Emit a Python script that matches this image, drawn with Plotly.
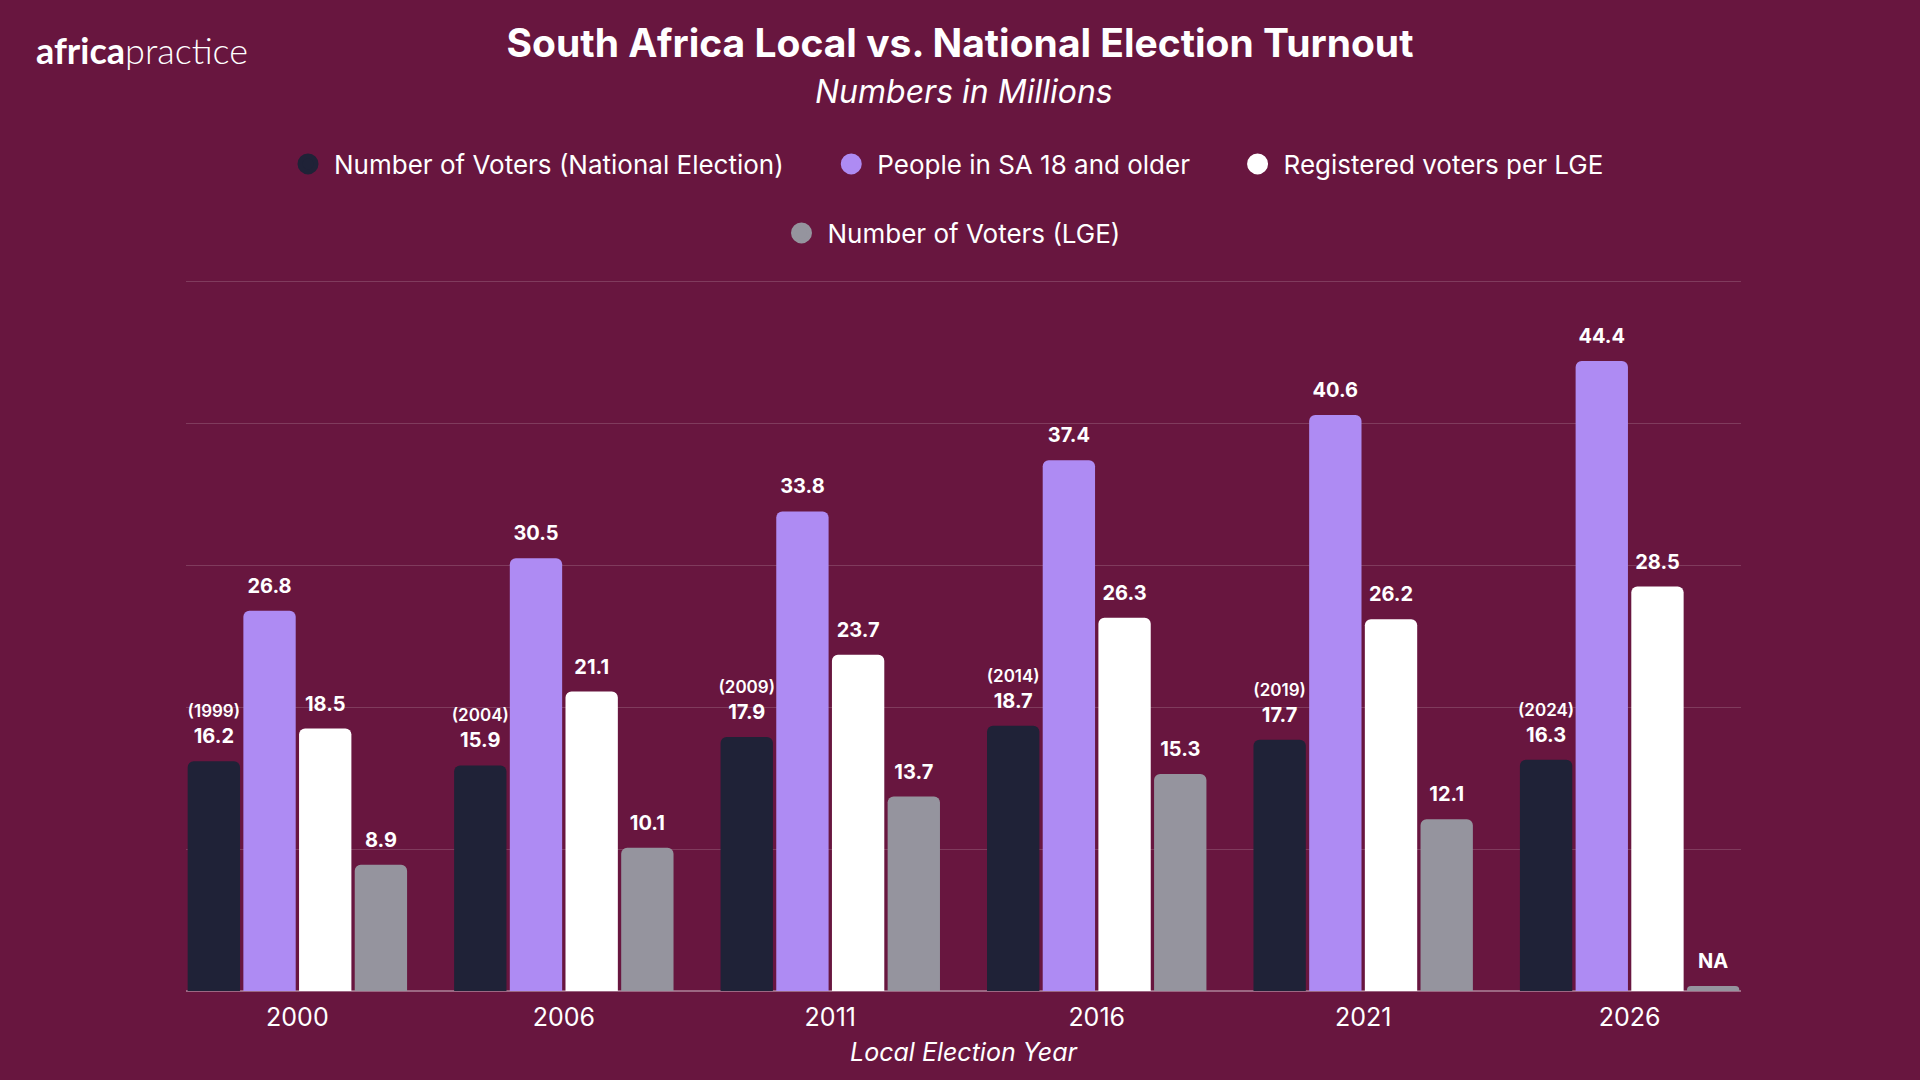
import plotly.graph_objects as go

# ---------------- data ----------------
years = ["2000", "2006", "2011", "2016", "2021", "2026"]
national_years = ["1999", "2004", "2009", "2014", "2019", "2024"]
national_voters = [16.2, 15.9, 17.9, 18.7, 17.7, 16.3]
adults_18_plus = [26.8, 30.5, 33.8, 37.4, 40.6, 44.4]
registered_lge = [18.5, 21.1, 23.7, 26.3, 26.2, 28.5]
lge_voters = [8.9, 10.1, 13.7, 15.3, 12.1, None]
na_stub = 0.35  # small placeholder bar drawn where the value is not available

series_names = [
    "Number of Voters (National Election)",
    "People in SA 18 and older",
    "Registered voters per LGE",
    "Number of Voters (LGE)",
]

# ---------------- styles ----------------
BG = "#68163F"
C_DARK = "#1F2237"
C_PURPLE = "#AE8BF3"
C_WHITE = "#FFFFFF"
C_GRAY = "#95949E"
FONT = "Inter"

W, H = 1920, 1080
L, R, T, B = 186, 179, 278, 89
PH = H - T - B
PW = W - L - R


def py(px_from_top):
    return (H - B - px_from_top) / PH


NUM = "<span style='font-size:20px;font-weight:bold'>{}</span>"
YR = "<span style='font-size:17px;font-weight:600'>({})</span>"
TAIL = "<br> "  # small spacer line to lift labels off the bar tops

label_font = dict(family=FONT, size=10, color="white")


def lab(v):
    return NUM.format(v) + TAIL


fig = go.Figure()

nat_text = [YR.format(ny) + "<br><br>" + lab(v) for ny, v in zip(national_years, national_voters)]
fig.add_trace(go.Bar(x=years, y=national_voters, marker_color=C_DARK,
                     text=nat_text, name=series_names[0], showlegend=False))
fig.add_trace(go.Bar(x=years, y=adults_18_plus, marker_color=C_PURPLE,
                     text=[lab(v) for v in adults_18_plus], name=series_names[1], showlegend=False))
fig.add_trace(go.Bar(x=years, y=registered_lge, marker_color=C_WHITE,
                     text=[lab(v) for v in registered_lge], name=series_names[2], showlegend=False))
lge_plot = [v if v is not None else na_stub for v in lge_voters]
lge_text = [lab(v if v is not None else "NA") for v in lge_voters]
fig.add_trace(go.Bar(x=years, y=lge_plot, marker_color=C_GRAY,
                     text=lge_text, name=series_names[3], showlegend=False))

fig.update_traces(selector=dict(type="bar"), textposition="outside",
                  outsidetextfont=label_font, textfont=label_font,
                  constraintext="none", cliponaxis=False, marker_line_width=0)

# legend entries (circle markers)
PAD = "\u00a0" * 5
for i, (nm, c) in enumerate(zip(series_names, [C_DARK, C_PURPLE, C_WHITE, C_GRAY])):
    fig.add_trace(go.Scatter(
        x=[None], y=[None], mode="markers", name=nm + (PAD if i < 2 else ""),
        marker=dict(size=16, color=c, symbol="circle", line=dict(width=5, color=c)),
        legend="legend" if i < 3 else "legend2", hoverinfo="skip"))

fig.update_layout(
    width=W, height=H,
    paper_bgcolor=BG, plot_bgcolor=BG,
    margin=dict(l=L, r=R, t=T, b=B),
    font=dict(family=FONT, color="white"),
    barmode="group", bargap=0.164, bargroupgap=0.06, barcornerradius=6,
    title=dict(text="<b>South Africa Local vs. National Election Turnout</b>",
               font=dict(family=FONT, size=39, color="white"),
               x=0.5, xref="container", xanchor="center",
               y=1 - 43 / H, yref="container", yanchor="middle"),
    legend=dict(orientation="h", x=0.5 - 18 / PW, xanchor="center", y=py(164), yanchor="middle",
                font=dict(family=FONT, size=26, color="white"), bgcolor="rgba(0,0,0,0)",
                itemwidth=42),
    legend2=dict(orientation="h", x=0.5 - 13 / PW, xanchor="center", y=py(233), yanchor="middle",
                 font=dict(family=FONT, size=26, color="white"), bgcolor="rgba(0,0,0,0)",
                 itemwidth=42),
    xaxis=dict(type="category", range=[-0.418, 5.418], ticks="", showline=False,
               showgrid=False, ticklabelstandoff=9,
               tickfont=dict(family=FONT, size=25, color="white"),
               title=dict(text="Local Election Year", standoff=12,
                          font=dict(family=FONT, size=25, color="white", style="italic"))),
    yaxis=dict(range=[0, 50.25], tickvals=[10, 20, 30, 40, 50], showticklabels=False, ticks="",
               showgrid=True, gridcolor="rgba(255,255,255,0.16)", gridwidth=1,
               zeroline=True, zerolinecolor="rgba(255,255,255,0.35)", zerolinewidth=1.5),
    annotations=[
        dict(text="Numbers in Millions", x=0.5, xref="paper", y=py(92), yref="paper",
             xanchor="center", yanchor="middle", showarrow=False,
             font=dict(family=FONT, size=32, color="white", style="italic")),
        dict(text="<b>africa</b><span style='font-weight:300'>practice</span>",
             x=(34 - L) / PW, xref="paper", y=py(50), yref="paper",
             xanchor="left", yanchor="middle", showarrow=False,
             font=dict(family="Lato", size=36, color="white")),
    ],
    showlegend=True,
)

fig.write_html("out.html")
